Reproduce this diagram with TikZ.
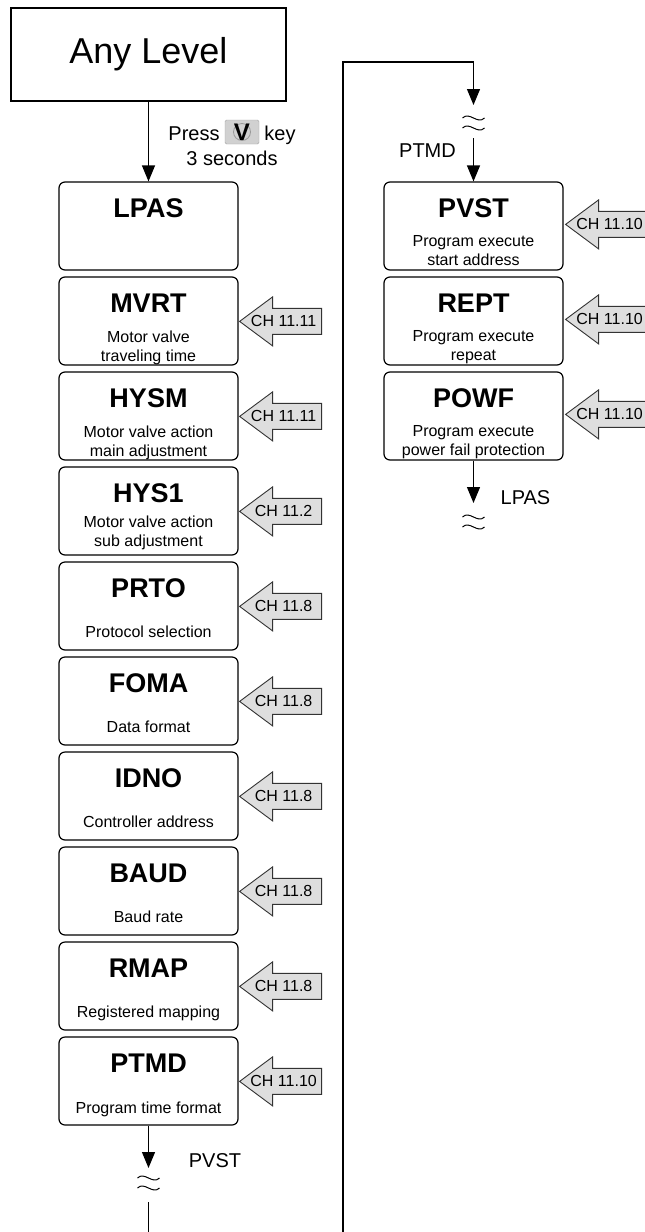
\documentclass[tikz,border=0pt]{standalone}
\usepackage{fontspec}
\setmainfont{Liberation Sans}
\usetikzlibrary{arrows.meta}
\newcommand\mybox[4]{\node[box] (#1) at (#2,#3+44) {};
  \node[ttl] (#1t) at ([yshift=-36pt]#1.north) {#4};}
\newcommand\subl[3]{\node[sub] at ([yshift=-#2pt]#1.north) {#3};}
\newcommand\charr[4]{%
  \coordinate (#1tip) at ([xshift=#2pt,yshift=-#3pt]#1.north east);
  \draw[cha] (#1tip) -- ++(33,-24.5) -- ++(0,11.5) -- ++(49,0) -- ++(0,26) -- ++(-49,0) -- ++(0,11.5) -- cycle;
  \node[cht] (#1ch) at ([xshift=44pt]#1tip) {#4};}
\newcommand\brk[2]{%
  \draw[wave] (#1-11,#2) .. controls (#1-4,#2-7) and (#1+4,#2+7) .. (#1+11,#2);}
\begin{document}
\begin{tikzpicture}[x=1pt,y=-1pt,
  box/.style={draw, line width=1.2pt, rounded corners=6pt, minimum width=179pt, minimum height=88pt, inner sep=0pt},
  ttl/.style={font=\fontsize{27}{30}\selectfont\bfseries, anchor=base, inner sep=0pt},
  sub/.style={font=\fontsize{16}{19}\selectfont, anchor=base, inner sep=0pt},
  lbl/.style={font=\fontsize{20}{24}\selectfont, anchor=base, inner sep=0pt},
  cht/.style={font=\fontsize{16}{19}\selectfont, inner sep=0pt},
  cha/.style={draw=black!80, line width=0.9pt, fill=black!13, line join=miter},
  conn/.style={line width=1.2pt, -{Triangle[length=16pt,width=13pt]}},
  plain/.style={line width=1.2pt},
  wave/.style={line width=1pt}
]
\useasboundingbox (0,0) rectangle (645,1232);
\clip (0,0) rectangle (645,1232);
\fill[white] (0,0) rectangle (645,1232);

% top box
\node[draw, line width=1.2pt, minimum width=275pt, minimum height=93pt, inner sep=0pt,
  font=\fontsize{36}{40}\selectfont] (any) at (148.5,54.5) {Any Level};

% press key label
\node[lbl] (press) at (194,140) {Press};
\node[draw=black!35, fill=black!18, rounded corners=1.5pt, minimum width=34pt, minimum height=24pt, inner sep=0pt] (keyicon) at (242,132) {};
\draw[black!40, line width=0.8pt] (keyicon.center) circle (8.5pt);
\node[font=\fontsize{24}{24}\selectfont\bfseries, inner sep=0pt] (keyv) at (keyicon.center) {V};
\node[lbl] (keyw) at (280,140) {key};
\node[lbl] (secs) at (232,165) {3 seconds};

% left column
\mybox{lpas}{148.5}{182}{LPAS}
\mybox{mvrt}{148.5}{277}{MVRT}
\subl{mvrt}{66}{Motor valve}
\subl{mvrt}{85}{traveling time}
\mybox{hysm}{148.5}{372}{HYSM}
\subl{hysm}{66}{Motor valve action}
\subl{hysm}{85}{main adjustment}
\mybox{hysa}{148.5}{467}{HYS1}
\subl{hysa}{61}{Motor valve action}
\subl{hysa}{80}{sub adjustment}
\mybox{prto}{148.5}{562}{PRTO}
\subl{prto}{76}{Protocol selection}
\mybox{foma}{148.5}{657}{FOMA}
\subl{foma}{76}{Data format}
\mybox{idno}{148.5}{752}{IDNO}
\subl{idno}{76}{Controller address}
\mybox{baud}{148.5}{847}{BAUD}
\subl{baud}{76}{Baud rate}
\mybox{rmap}{148.5}{942}{RMAP}
\subl{rmap}{76}{Registered mapping}
\mybox{ptmd}{148.5}{1037}{PTMD}
\subl{ptmd}{77}{Program time format}

\charr{mvrt}{1}{45}{CH 11.11}
\charr{hysm}{1}{45}{CH 11.11}
\charr{hysa}{1}{45}{CH 11.2}
\charr{prto}{1}{45}{CH 11.8}
\charr{foma}{1}{45}{CH 11.8}
\charr{idno}{1}{45}{CH 11.8}
\charr{baud}{1}{45}{CH 11.8}
\charr{rmap}{1}{45}{CH 11.8}
\charr{ptmd}{1}{45}{CH 11.10}

% right column
\mybox{pvst}{473.5}{182}{PVST}
\subl{pvst}{65}{Program execute}
\subl{pvst}{84}{start address}
\mybox{rept}{473.5}{277}{REPT}
\subl{rept}{65}{Program execute}
\subl{rept}{84}{repeat}
\mybox{powf}{473.5}{372}{POWF}
\subl{powf}{65}{Program execute}
\subl{powf}{84}{power fail protection}

\charr{pvst}{2}{43}{CH 11.10}
\charr{rept}{2}{43}{CH 11.10}
\charr{powf}{2}{43}{CH 11.10}

% connectors
\draw[conn] (any.south) -- (lpas.north);

\coordinate (lbreak) at (148.5,1168);
\draw[conn] (ptmd.south) -- (lbreak);
\brk{148.5}{1178}
\brk{148.5}{1188}
\node[lbl] (pvstlbl) at (215,1167) {PVST};
\coordinate (lcont) at (148.5,1202);
\coordinate (lend) at (148.5,1245);
\draw[plain] (lcont) -- (lend);

\coordinate (loopbot) at (343,1245);
\coordinate (looptop) at (343,62);
\coordinate (loopright) at (473.5,62);
\coordinate (rbreak) at (473.5,105);
\draw[conn] (loopbot) -- (looptop) -- (loopright) -- (rbreak);
\brk{473.5}{118}
\brk{473.5}{128}
\coordinate (rcont) at (473.5,138);
\draw[conn] (rcont) -- (pvst.north);
\node[lbl] (ptmdlbl) at (427.5,157) {PTMD};

\coordinate (bbreak) at (473.5,503);
\draw[conn] (powf.south) -- (bbreak);
\brk{473.5}{517}
\brk{473.5}{527}
\node[lbl] (lpaslbl) at (525.5,504) {LPAS};
\end{tikzpicture}
\end{document}
